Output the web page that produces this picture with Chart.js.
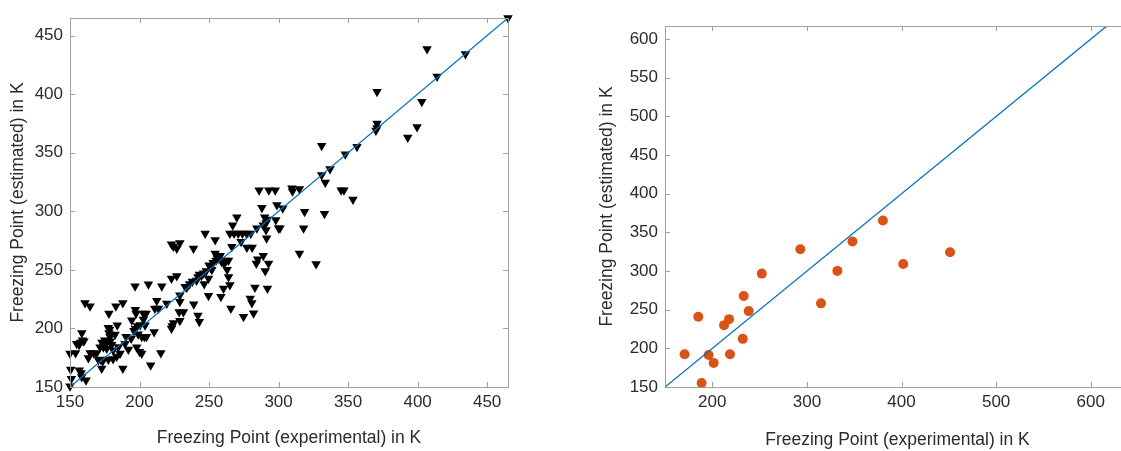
<!DOCTYPE html>
<html>
<head>
<meta charset="utf-8">
<script src="https://cdn.jsdelivr.net/npm/chart.js@4.4.1/dist/chart.umd.min.js"></script>
<style>
  html, body { margin: 0; padding: 0; background: #fff; overflow: hidden; }
  #wrap { position: relative; width: 1121px; height: 451px; overflow: hidden; }
  #c1 { position: absolute; left: 0; top: 0; }
  #c2 { position: absolute; left: 560px; top: 0; }
</style>
</head>
<body>
<div id="wrap">
  <canvas id="c1" width="560" height="451"></canvas>
  <canvas id="c2" width="600" height="451"></canvas>
</div>
<script>
// left panel: experimental vs estimated freezing point (K)
const leftExp = [
  150,151,150.5,150,154,154.8,156.5,157.5,159,158.5,160,156.7,158,158.4,161.5,160.8,164.4,163.2,164.5,167,
  169,170.5,172,173.5,172.8,171.6,174,173,175,176,176.4,177.6,178.5,178,178.8,177.5,178,181,181,182.4,
  184,183.6,184.8,183,186,188,188,189.6,190.3,180,179,
  192,194,194.4,196.8,197,197.5,197,196,198.5,198,200,201.6,201.6,203.5,205,202.8,204,202.8,204.7,206.4,
  208,210.5,211,212.4,213.6,215.3,216,199,200.5,
  219.6,223,223.5,224.4,223,226.8,223,224.4,226.8,229,229,229,228.5,231.6,229,232.8,234,238.8,239,242,243,236,238,
  241,242,243,244.5,246,246.5,247.2,248,249.6,249.6,250,251,252,253,254.4,254.4,255,256,257,258,
  258.5,259,260.4,261,262,263,264,264,265,265.7,266.4,267,270,
  265,268,271,274,277,280,273,277.2,281,284.4,285,284,289,292.8,290.4,292,283,279.6,280.8,282,
  274.8,286,288,290,292,291,289,291,291.4,293,297.6,298,298.8,300,301,303,
  309.6,315,310,318.7,318,315,327,331,331,333.6,333,337,345,347,348,353.5,356.4,
  370.8,370.8,370.8,370,392.9,399.6,403,406.8,414,434.4,465
];
const leftEst = [
  150.6,157,165,178.5,179,187,186,188,190,196,189,164.3,162,158.6,155.7,221.8,219,174.8,179,179,
  178.5,173,173.5,172,165.7,184,184,188,190,187,182.8,173.4,199,196,193,200.5,212.7,181.4,174,194.8,
  202.8,176,184.2,219,178.5,165.7,221.8,187,193,186,189,
  182,191.3,207,236,216,212.7,200,198,202,184,180,178.5,192.8,192.8,192.8,207.6,202.7,212.7,212.7,237.8,
  168.5,197,217,223.6,217,179,236,195,203,
  221.3,200,202,204.7,242.7,244.7,271.8,270,268.3,273,228.4,222.7,214,214,206.5,235.5,235,268.3,220.7,211,205.6,238,240,
  241,244,246,245,247,238,281,249,242.7,228,254,252,250,256,264,275.5,258,260,260,262,
  227,257,234,255,258,250,258,244,237,217,269.8,288,295,
  281,281,281,281,281,281,274,269,269,285.5,259,255.5,262,255.5,249,234,235,225.6,221.8,213,
  210,318,303,295,293,290,288,284,277,318,318,292.5,305.4,285.5,285.5,302.5,
  319.7,319,317,299.7,285.5,264,255,356,331,324.5,298,336,318,318,348.7,310,355,
  402,375,371,369,363,372,393.5,438.6,415,434.3,465
];

// right panel
const rightExp = [170.7,185.2,188.7,196.1,201.4,212.4,217.7,218.7,232.2,233.2,238.5,252.3,293,314.9,332.2,348.1,380.3,401.8,451.3];
const rightEst = [192.4,240.9,155.2,191.5,181.2,230,237.8,192.4,212.3,267.7,248.2,296.7,328.3,258.2,300.2,338.2,365.5,309.2,324.4];

const leftTicks = [150, 200, 250, 300, 350, 400, 450];
const rightXTicks = [200, 300, 400, 500, 600];
const rightYTicks = [150, 200, 250, 300, 350, 400, 450, 500, 550, 600];

const xTitle = 'Freezing Point (experimental) in K';
const yTitle = 'Freezing Point (estimated) in K';

const FONT = "'Liberation Sans', Arial, Helvetica, sans-serif";
const TEXT = '#2b2b2b';
const AXIS = '#a0a0a0';

// box with inward ticks, matlab style
const frame = {
  id: 'frame',
  afterDatasetsDraw(chart) {
    const { ctx, chartArea: a, scales: { x, y } } = chart;
    ctx.save();
    ctx.strokeStyle = AXIS;
    ctx.lineWidth = 1;
    ctx.strokeRect(Math.round(a.left) + 0.5, Math.round(a.top) + 0.5,
      Math.round(a.right - a.left), Math.round(a.bottom - a.top));
    ctx.beginPath();
    x.ticks.forEach(t => {
      const p = Math.round(x.getPixelForValue(t.value)) + 0.5;
      ctx.moveTo(p, a.bottom); ctx.lineTo(p, a.bottom - 5);
      ctx.moveTo(p, a.top); ctx.lineTo(p, a.top + 5);
    });
    y.ticks.forEach(t => {
      const p = Math.round(y.getPixelForValue(t.value)) + 0.5;
      ctx.moveTo(a.left, p); ctx.lineTo(a.left + 5, p);
      ctx.moveTo(a.right, p); ctx.lineTo(a.right - 5, p);
    });
    ctx.stroke();
    ctx.restore();
  }
};

function axis(range, ticks, size, titlePad, tickPad) {
  return {
    type: 'linear',
    min: range[0],
    max: range[1],
    afterBuildTicks: s => { s.ticks = ticks.map(v => ({ value: v })); },
    afterFit: s => { if (s.isHorizontal()) s.height = size; else s.width = size; },
    grid: { display: false, drawTicks: false },
    border: { display: false },
    ticks: { color: TEXT, font: { family: FONT, size: 17 }, padding: tickPad },
    title: {
      display: true,
      color: TEXT,
      font: { family: FONT, size: 17.5 },
      padding: titlePad
    }
  };
}

function makeChart(id, points, diag, marker, xs, ys, pad) {
  const xAxis = axis(xs.range, xs.ticks, xs.size, xs.titlePad, 5);
  xAxis.title.text = xTitle;
  const yAxis = axis(ys.range, ys.ticks, ys.size, ys.titlePad, 7);
  yAxis.title.text = yTitle;
  return new Chart(document.getElementById(id), {
    type: 'scatter',
    data: {
      datasets: [
        {
          type: 'line',
          data: diag,
          borderColor: '#0072BD',
          borderWidth: 1.3,
          pointRadius: 0,
          order: 0
        },
        Object.assign({ data: points, order: 1, clip: false }, marker)
      ]
    },
    options: {
      responsive: false,
      animation: false,
      layout: { padding: pad },
      plugins: { legend: { display: false }, tooltip: { enabled: false } },
      scales: { x: xAxis, y: yAxis }
    },
    plugins: [frame]
  });
}

const leftPoints = leftExp.map((v, i) => ({ x: v, y: leftEst[i] }));
const rightPoints = rightExp.map((v, i) => ({ x: v, y: rightEst[i] }));

makeChart('c1', leftPoints,
  [{ x: 150, y: 150 }, { x: 465, y: 465 }],
  { pointStyle: 'triangle', rotation: 180, pointRadius: 5.5, backgroundColor: '#000', borderColor: '#000', borderWidth: 0 },
  { range: [150, 465], ticks: leftTicks, size: 64, titlePad: { top: 8, bottom: 2 } },
  { range: [150, 465], ticks: leftTicks, size: 70, titlePad: { top: 8, bottom: 0 } },
  { top: 18, right: 52, left: 0, bottom: 0 });

makeChart('c2', rightPoints,
  [{ x: 150, y: 150 }, { x: 650, y: 650 }],
  { pointStyle: 'circle', pointRadius: 5, backgroundColor: '#D95319', borderColor: '#D95319', borderWidth: 0 },
  { range: [150, 641.5], ticks: rightXTicks, size: 64, titlePad: { top: 14, bottom: 0 } },
  { range: [150, 617], ticks: rightYTicks, size: 105, titlePad: { top: 37, bottom: 0 } },
  { top: 26, right: 30, left: 0, bottom: 0 });
</script>
</body>
</html>
